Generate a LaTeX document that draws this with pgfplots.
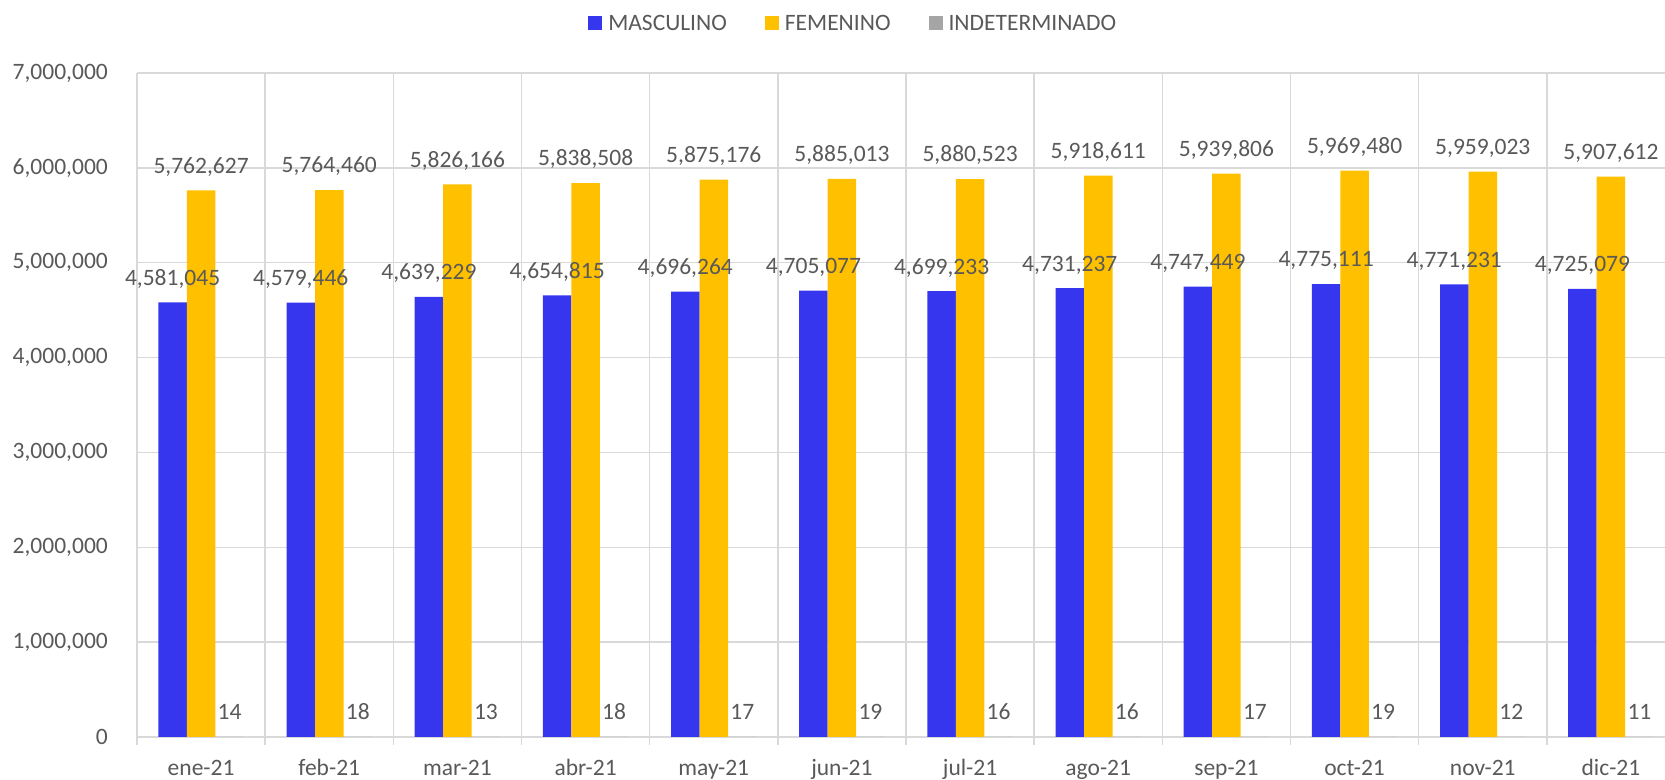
\documentclass[border=0pt]{standalone}
\usepackage{pgfplots}
\pgfplotsset{compat=1.18}
\usepackage{fontspec}
\setmainfont{Carlito}
\definecolor{cblue}{HTML}{3636EE}
\definecolor{cyel}{HTML}{FFC000}
\definecolor{cgray}{HTML}{A5A5A5}
\definecolor{cgrid}{HTML}{D9D9D9}
\definecolor{ctext}{HTML}{595959}
\newcommand{\cf}{\fontsize{23.5bp}{28bp}\selectfont}
\pgfplotsset{mylegend/.style={legend image code/.code={\fill[##1] (0bp,-7bp) rectangle (14bp,7bp);}}}
\begin{document}
\begin{tikzpicture}[x=1bp,y=1bp]
\begin{axis}[
  at={(137bp,43bp)}, anchor=south west, scale only axis,
  width=1538bp, height=664bp,
  xmin=-0.5, xmax=11.5, ymin=0, ymax=7000000,
  ybar=0pt, bar width=28.5bp,
  axis line style={draw=none},
  xtick={0,...,11},
  xticklabels={ene-21,feb-21,mar-21,abr-21,may-21,jun-21,jul-21,ago-21,sep-21,oct-21,nov-21,dic-21},
  minor xtick={-0.5,0.5,...,11.5},
  xminorgrids=true,
  ytick={0,1000000,...,7000000},
  scaled y ticks=false,
  ymajorgrids=true,
  grid style={cgrid, line width=1.5bp},
  minor grid style={cgrid, line width=1.5bp},
  major tick length=0pt, minor tick length=8bp,
  tick align=outside, tick pos=left,
  minor tick style={cgrid, line width=1.5bp},
  major tick style={draw=none},
  /pgf/number format/assume math mode=true,
  yticklabel={\pgfmathprintnumber[fixed,precision=0,1000 sep={,}]{\tick}},
  ticklabel style={font=\cf, text=ctext, inner sep=0pt},
  yticklabel style={anchor=east, xshift=-29bp},
  xticklabel style={anchor=base, yshift=-39bp},
  point meta=explicit symbolic,
  nodes near coords,
  every node near coord/.append style={font=\cf, text=ctext, inner sep=0pt, text depth=0pt, anchor=south, yshift=17bp},
  legend columns=3,
  legend style={draw=none, fill=none, inner sep=0pt, font=\cf, text=ctext,
    at={(0.465,1.0746)}, anchor=center,
    nodes={inner sep=0pt},
    /tikz/every odd column/.append style={column sep=6bp},
    /tikz/every even column/.append style={column sep=38bp}},
  legend cell align=left,
]
\addplot[fill=cblue, draw=none, mylegend] table[x=x,y=y,meta=l] {
x y l
0 4581045 4,581,045
1 4579446 4,579,446
2 4639229 4,639,229
3 4654815 4,654,815
4 4696264 4,696,264
5 4705077 4,705,077
6 4699233 4,699,233
7 4731237 4,731,237
8 4747449 4,747,449
9 4775111 4,775,111
10 4771231 4,771,231
11 4725079 4,725,079
};
\addplot[fill=cyel, draw=none, mylegend] table[x=x,y=y,meta=l] {
x y l
0 5762627 5,762,627
1 5764460 5,764,460
2 5826166 5,826,166
3 5838508 5,838,508
4 5875176 5,875,176
5 5885013 5,885,013
6 5880523 5,880,523
7 5918611 5,918,611
8 5939806 5,939,806
9 5969480 5,969,480
10 5959023 5,959,023
11 5907612 5,907,612
};
\addplot[fill=cgray, draw=none, mylegend] table[x=x,y=y,meta=l] {
x y l
0 14 14
1 18 18
2 13 13
3 18 18
4 17 17
5 19 19
6 16 16
7 16 16
8 17 17
9 19 19
10 12 12
11 11 11
};
\legend{MASCULINO, FEMENINO, INDETERMINADO}
\end{axis}
\pgfresetboundingbox
\path[use as bounding box] (0,0) rectangle (1665,780);
\end{tikzpicture}
\end{document}
